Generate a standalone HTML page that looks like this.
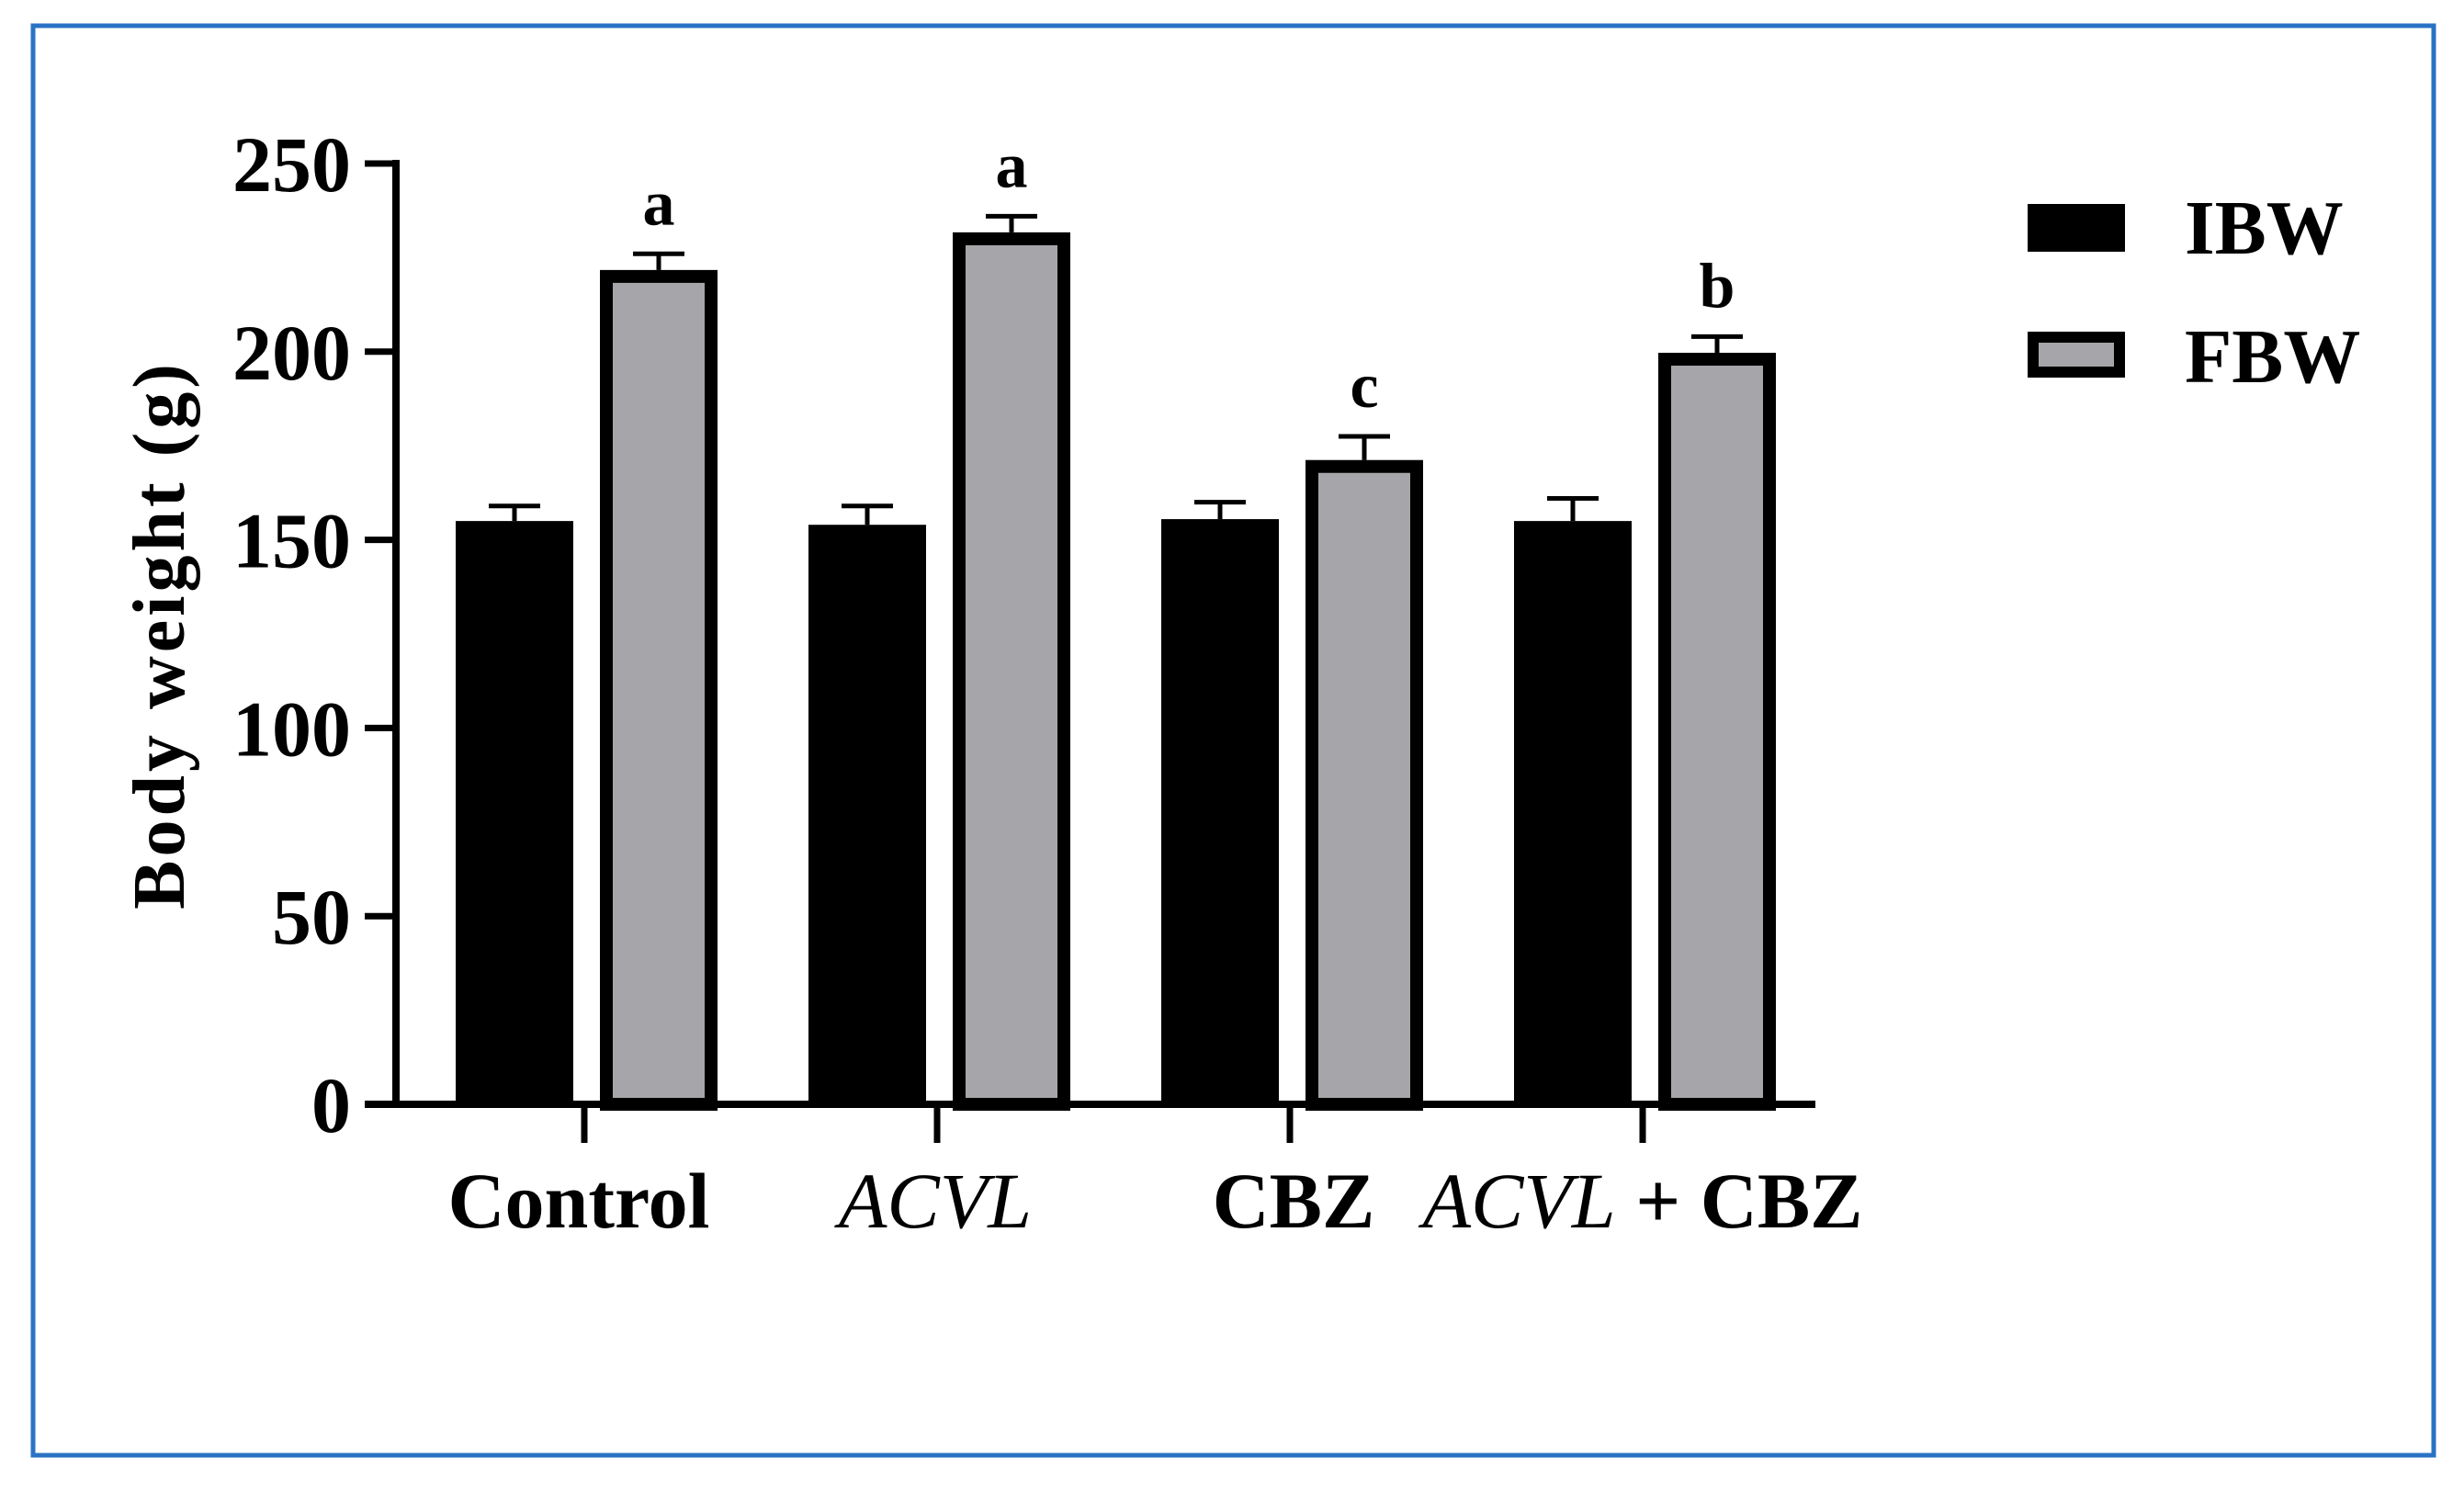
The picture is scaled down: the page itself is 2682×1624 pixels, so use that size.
<!DOCTYPE html>
<html><head><meta charset="utf-8"><style>
html,body{margin:0;padding:0;background:#fff}
svg{display:block}
text{font-family:"Liberation Serif",serif;font-weight:bold;fill:#000}
</style></head><body>
<svg id="chart" width="2682" height="1624" viewBox="0 0 2682 1624" xmlns="http://www.w3.org/2000/svg">
<rect x="36" y="28" width="2613" height="1556" fill="none" stroke="#2a72c4" stroke-width="5"/>
<g id="plot"></g>
</svg>
<script>
const categories = ["Control","ACVL","CBZ","ACVL + CBZ"];
const ibwValues = [155, 154, 155.5, 155];
const ibwErr = [159, 159, 160, 161];
const fbwValues = [220, 230, 169.5, 198];
const fbwErr = [226, 236, 177.5, 204];
const sigLetters = ["a","a","c","b"];
const yTicks = [0,50,100,150,200,250];

const NS="http://www.w3.org/2000/svg";
const g=document.getElementById('plot');
const y0=1202, pxPer=1024/250;
const yS=v=>y0-v*pxPer;
const gx=i=>636+i*384;
function el(t,a,txt){const e=document.createElementNS(NS,t);for(const k in a)e.setAttribute(k,a[k]);if(txt!=null)e.textContent=txt;g.appendChild(e);return e;}

categories.forEach((c,i)=>{
  const cx=gx(i);
  const ib=el('rect',{x:cx-140,y:yS(ibwValues[i]),width:128,height:y0-yS(ibwValues[i]),fill:'#000'});
  
  
  const ic=cx-76;
  const ie=el('path',{d:`M${ic},${yS(ibwValues[i])} V${yS(ibwErr[i])} M${ic-28},${yS(ibwErr[i])} H${ic+28}`,stroke:'#000','stroke-width':5,fill:'none'});
  
  
  const fb=el('rect',{x:cx+24,y:yS(fbwValues[i]),width:114,height:y0-yS(fbwValues[i]),fill:'#a6a6aa',stroke:'#000','stroke-width':14});
  
  
  const fc=cx+81;
  const fe=el('path',{d:`M${fc},${yS(fbwValues[i])-7} V${yS(fbwErr[i])} M${fc-28},${yS(fbwErr[i])} H${fc+28}`,stroke:'#000','stroke-width':5,fill:'none'});
  
  
  const lt=el('text',{x:fc,y:yS(fbwErr[i])-32,'font-size':70,'text-anchor':'middle'},sigLetters[i]);
  
  
  const tk=el('line',{x1:cx,x2:cx,y1:y0,y2:y0+42,stroke:'#000','stroke-width':7});
  
  
});

function xLabel(i,html,dx){
  const t=el('text',{x:gx(i)+dx,y:1336,'font-size':86,'text-anchor':'middle'});
  t.innerHTML=html;
  
  
}
xLabel(0,'Control',-6);
xLabel(1,'<tspan font-style="italic" font-weight="normal">ACVL</tspan>',-2);
xLabel(2,'CBZ',4);
xLabel(3,'<tspan font-style="italic" font-weight="normal">ACVL</tspan> + CBZ',0);

const ya=el('line',{x1:431,x2:431,y1:174,y2:1206,stroke:'#000','stroke-width':8});


const xa=el('line',{x1:397,x2:1976,y1:1202,y2:1202,stroke:'#000','stroke-width':8});


yTicks.forEach(v=>{
  const l=el('line',{x1:397,x2:431,y1:yS(v),y2:yS(v),stroke:'#000','stroke-width':7});
  
  
  const t=el('text',{x:382,y:yS(v)+30,'font-size':86,'text-anchor':'end'},String(v));
  
  
});
const yt=el('text',{x:0,y:0,'font-size':80,'text-anchor':'middle','letter-spacing':4,transform:'translate(200,691) rotate(-90)'},'Body weight (g)');



const l1=el('rect',{x:2207,y:222,width:106,height:52,fill:'#000'});


const l1t=el('text',{x:2378,y:276,'font-size':84},'IBW');


const l2=el('rect',{x:2213,y:367,width:94,height:38,fill:'#a6a6aa',stroke:'#000','stroke-width':12});


const l2t=el('text',{x:2378,y:416,'font-size':84},'FBW');


</script>
</body></html>
